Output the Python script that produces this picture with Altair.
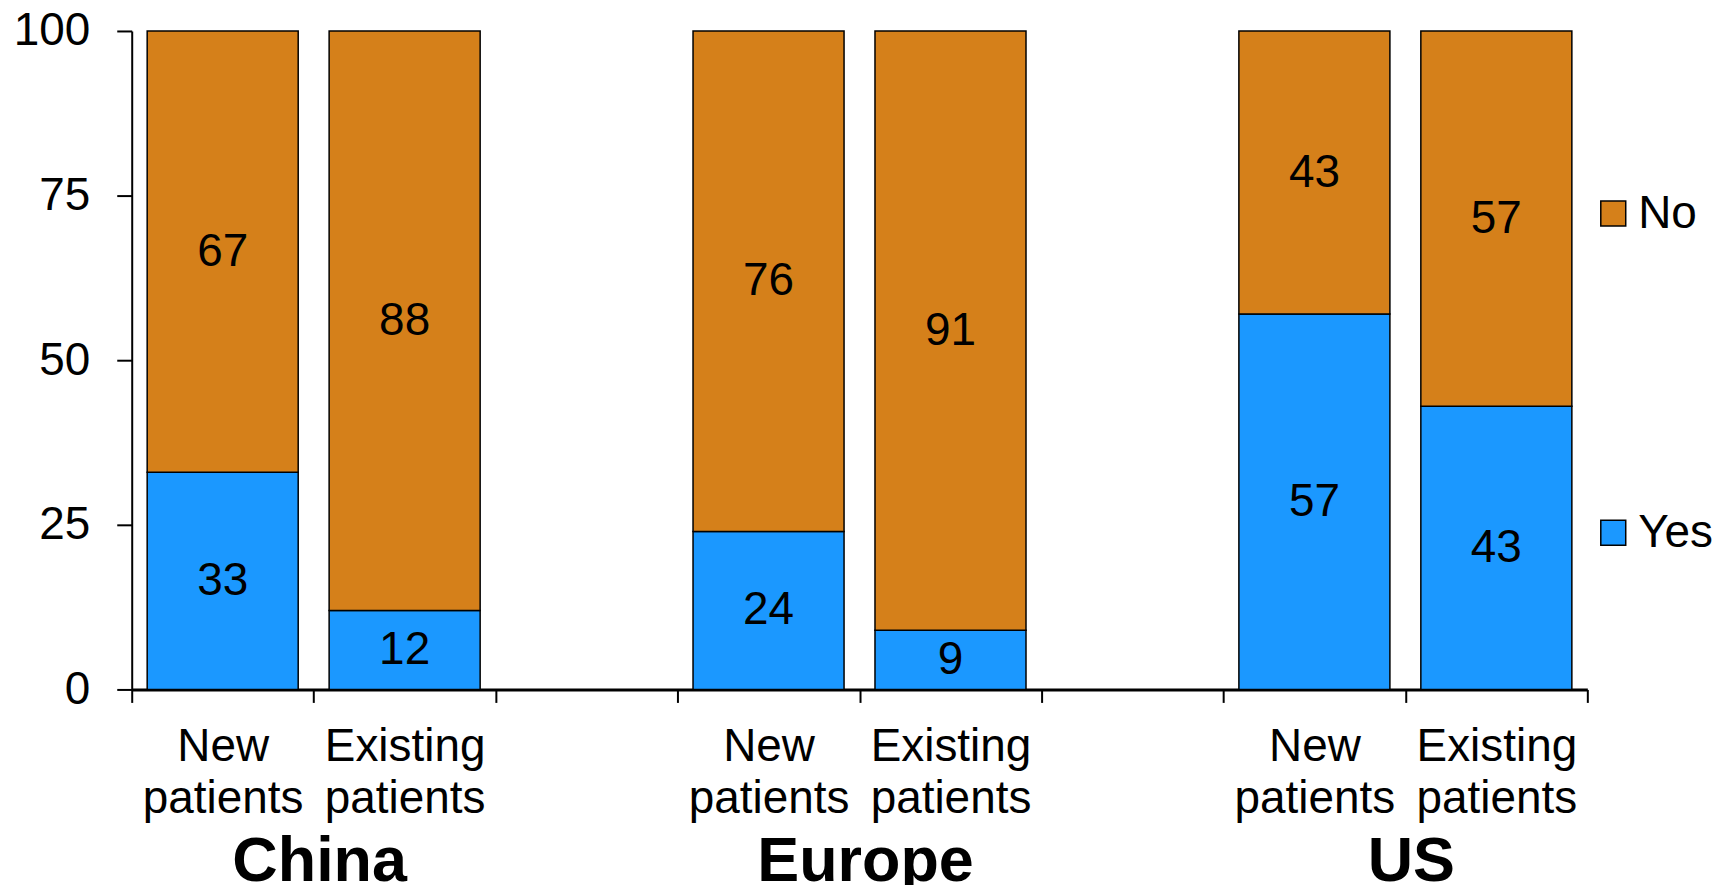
import altair as alt
import pandas as pd

regions = ["China", "Europe", "US"]
patient_types = ["New", "Existing"]
yes_values = [33, 12, 24, 9, 57, 43]
no_values = [67, 88, 76, 91, 43, 57]
answers = ["No", "Yes"]
colors = ["#D5801A", "#1B98FF"]

# slot order along x: two bars per region, with an empty slot between regions
slots = []
for i, r in enumerate(regions):
    for p in patient_types:
        slots.append(f"{r}|{p}")
    if i < len(regions) - 1:
        slots.append(f"gap{i}")

rows = []
k = 0
for r in regions:
    for p in patient_types:
        y, n = yes_values[k], no_values[k]
        rows.append(dict(slot=f"{r}|{p}", answer="Yes", value=y, y0=0, y1=y))
        rows.append(dict(slot=f"{r}|{p}", answer="No", value=n, y0=y, y1=y + n))
        k += 1
df = pd.DataFrame(rows)
df["mid"] = (df["y0"] + df["y1"]) / 2

FONT = "Liberation Sans"
WIDTH = 1459
xscale = alt.Scale(domain=slots, paddingInner=0, paddingOuter=0)
yscale = alt.Scale(domain=[0, 100], nice=False)

cat_expr = ("indexof(''+datum.value,'New')>=0 ? ['New','patients'] : "
            "(indexof(''+datum.value,'Existing')>=0 ? ['Existing','patients'] : '')")

bars = alt.Chart(df).mark_bar(
    width=alt.RelativeBandSize(0.83), stroke="black", strokeWidth=1.5
).encode(
    x=alt.X("slot:N", scale=xscale, sort=slots, title=None,
            axis=alt.Axis(orient="bottom", tickBand="extent", labelAngle=0,
                          domainColor="black", domainWidth=3,
                          tickColor="black", tickWidth=2, tickSize=13,
                          labelFont=FONT, labelFontSize=46, labelColor="black",
                          labelPadding=22, labelLineHeight=52,
                          labelExpr=cat_expr)),
    y=alt.Y("y0:Q", scale=yscale, title=None,
            axis=alt.Axis(values=[0, 25, 50, 75, 100], grid=False,
                          domainColor="black", domainWidth=2,
                          tickColor="black", tickWidth=2, tickSize=15,
                          labelFont=FONT, labelFontSize=46, labelColor="black",
                          labelPadding=27)),
    y2="y1:Q",
    color=alt.Color("answer:N", scale=alt.Scale(domain=answers, range=colors),
                    title=None,
                    legend=alt.Legend(orient="none", legendX=1462, legendY=160,
                                      symbolType="square", symbolSize=625,
                                      symbolStrokeColor="black", symbolStrokeWidth=1.5,
                                      labelFont=FONT, labelFontSize=46, labelColor="black",
                                      labelOffset=2, rowPadding=274, padding=0)),
)

labels = alt.Chart(df).mark_text(
    font=FONT, fontSize=46, color="black", baseline="middle", align="center"
).encode(
    x=alt.X("slot:N", scale=xscale, sort=slots, axis=None),
    y=alt.Y("mid:Q", scale=yscale),
    text="value:Q",
)

# region names sit on the boundary between the two bars of each region
group_axis = alt.Chart(df).mark_text(opacity=0).encode(
    x=alt.X("slot:N", scale=xscale, sort=slots, title=None,
            axis=alt.Axis(orient="bottom",
                          values=[f"{r}|Existing" for r in regions],
                          labelOffset=-WIDTH / len(slots) / 2 + 6,
                          domain=False, ticks=False, tickSize=0, labelAngle=0,
                          labelFont=FONT, labelFontSize=63, labelFontWeight="bold",
                          labelColor="black", labelPadding=142, labelLimit=600,
                          labelExpr="split(''+datum.value,'|')[0]")),
    text="answer:N",
)

chart = alt.layer(bars, labels, group_axis).resolve_axis(x="independent").properties(
    width=WIDTH, height=660,
    autosize=alt.AutoSizeParams(type="none"),
    padding={"left": 124, "top": 22, "right": 140, "bottom": 195},
).configure_view(strokeWidth=0)

chart.save("out.html", embed_options={"renderer": "svg", "actions": False})
